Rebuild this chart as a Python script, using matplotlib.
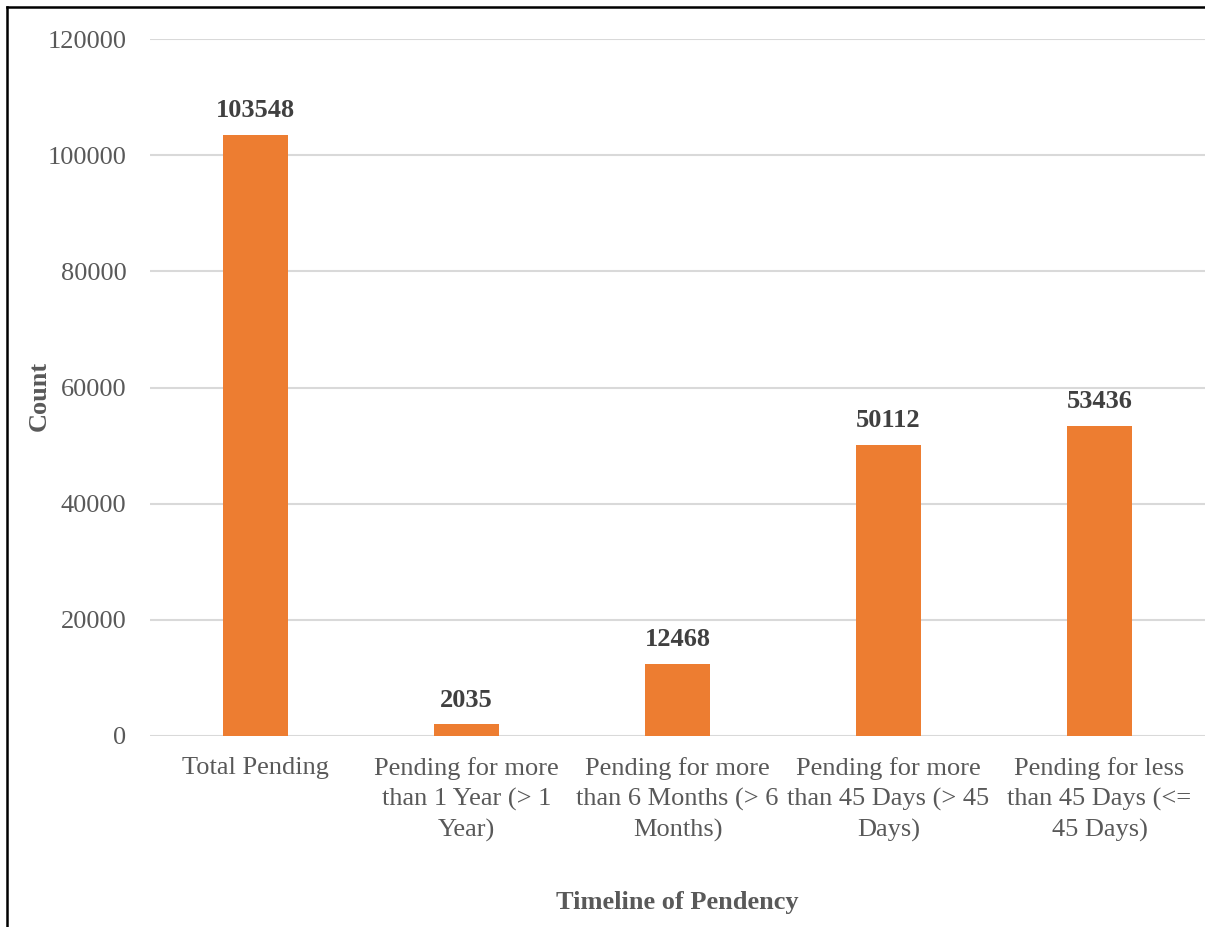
import numpy as np
import matplotlib.pyplot as plt
from matplotlib.lines import Line2D

categories = ["Total Pending",
              "Pending for more\nthan 1 Year (> 1\nYear)",
              "Pending for more\nthan 6 Months (> 6\nMonths)",
              "Pending for more\nthan 45 Days (> 45\nDays)",
              "Pending for less\nthan 45 Days (<=\n45 Days)"]
counts = [103548, 2035, 12468, 50112, 53436]
yticks = [0, 20000, 40000, 60000, 80000, 100000, 120000]

plt.rcParams['font.family'] = ['Liberation Serif', 'DejaVu Serif']

fig = plt.figure(figsize=(12.05, 9.27), dpi=100)
ax = fig.add_axes([150/1205, 1-736/927, 1055/1205, 697/927])

x = np.arange(len(counts))
ax.bar(x, counts, width=0.31, color="#ED7D31", zorder=3)

for xi, c in zip(x, counts):
    ax.annotate(str(c), (xi, c), xytext=(0, 9), textcoords="offset points",
                ha="center", va="bottom", fontsize=19, fontweight="bold", color="#404040")

ax.set_xlim(-0.5, len(counts)-0.5)
ax.set_ylim(0, 120000)
ax.set_yticks(yticks)
ax.set_yticklabels([str(t) for t in yticks])
ax.set_xticks(x)
ax.set_xticklabels(categories, linespacing=1.45)
ax.tick_params(axis="both", length=0, labelsize=19, labelcolor="#595959")
ax.tick_params(axis="y", pad=17)
ax.tick_params(axis="x", pad=15)
for label in ax.get_xticklabels():
    label.set_va("top")

ax.grid(axis="y", color="#D9D9D9", linewidth=1.5, zorder=0)
for s in ax.spines.values():
    s.set_visible(False)

ax.set_xlabel("Timeline of Pendency", fontsize=19, fontweight="bold", color="#595959")
ax.set_ylabel("Count", fontsize=19, fontweight="bold", color="#595959")
ax.xaxis.set_label_coords(0.5, -0.222)
ax.yaxis.set_label_coords(-0.094, 0.488)

# outer frame (left and top edges visible)
fig.add_artist(Line2D([7/1205, 7/1205], [0, 1-7/927], color="black", linewidth=1.8))
fig.add_artist(Line2D([7/1205, 1], [1-7/927, 1-7/927], color="black", linewidth=1.8))

fig.savefig("out.png", dpi=100)
